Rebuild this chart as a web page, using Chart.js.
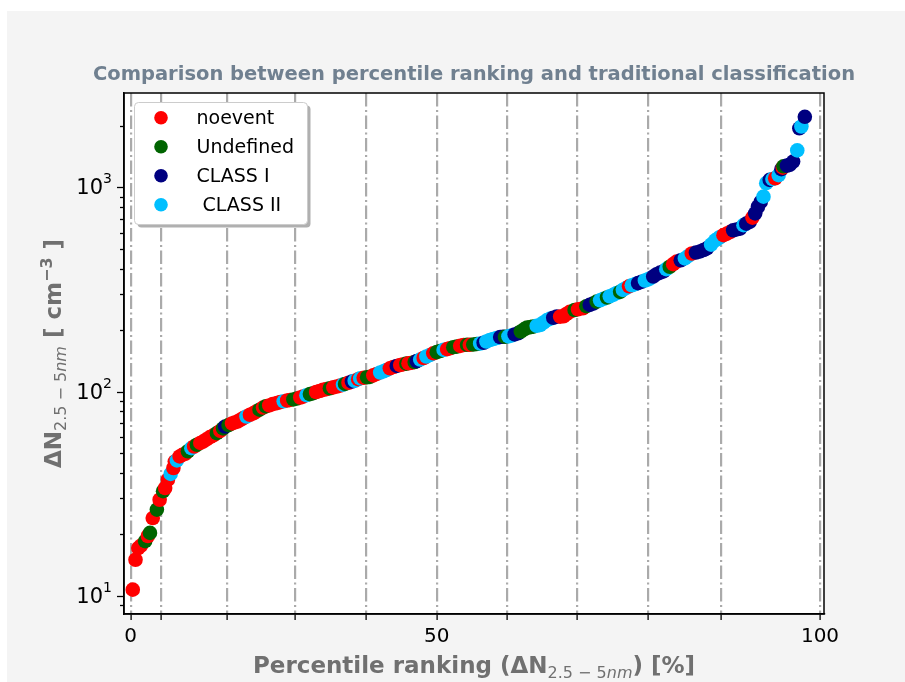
<!DOCTYPE html>
<html>
<head>
<meta charset="utf-8">
<script src="https://cdn.jsdelivr.net/npm/chart.js@4.4.0/dist/chart.umd.min.js"></script>
<style>
  html, body { margin: 0; padding: 0; background: #ffffff; }
  canvas { display: block; }
</style>
</head>
<body>
<canvas id="ranking" width="905" height="682"></canvas>
<script>
// percentile ranking (x) against the 2.5-5 nm concentration (y), one list per class
const noeventX = [0.3, 0.7, 1.1, 1.5, 2.5, 3.2, 4.2, 5.0, 5.4, 6.2, 6.4, 7.1, 7.5, 7.9, 9.2, 10.1, 10.5, 11.0, 11.5, 12.0, 13.0, 14.7, 15.1, 15.5, 16.0, 16.4, 17.3, 17.8, 18.2, 19.2, 20.1, 20.6, 21.2, 21.7, 22.7, 23.1, 24.6, 25.0, 26.9, 27.4, 27.9, 28.4, 29.4, 29.9, 30.4, 31.6, 33.0, 33.8, 35.2, 35.7, 37.6, 38.1, 39.1, 39.6, 40.3, 40.8, 42.5, 43.9, 45.9, 46.3, 47.8, 48.3, 49.2, 62.3, 62.8, 63.2, 63.7, 64.9, 65.6, 72.3, 78.7, 79.2, 81.4, 86.0, 86.5, 87.0, 90.2, 93.5, 94.6];
const noeventY = [10.7, 15.0, 17.1, 17.6, 19.6, 24.0, 29.5, 33.7, 37.0, 42.2, 45.4, 48.1, 49.0, 49.6, 53.8, 56.0, 56.9, 58.3, 59.8, 61.0, 64.2, 69.8, 70.6, 71.3, 73.0, 74.3, 77.0, 78.3, 79.8, 83.5, 85.5, 86.8, 87.8, 88.8, 90.4, 91.0, 93.5, 94.5, 99.5, 100.6, 101.9, 102.8, 104.8, 105.8, 107.0, 110.5, 115.0, 116.8, 120.0, 122.0, 130.0, 132.0, 135.0, 136.2, 137.7, 138.5, 146.0, 154.0, 161.5, 163.0, 167.5, 169.0, 169.5, 233.0, 234.0, 240.0, 246.0, 253.0, 256.0, 328.0, 421.0, 433.0, 475.0, 584.0, 594.0, 606.0, 712.0, 1110.0, 1250.0];

const undefinedX = [2.1, 2.8, 3.8, 4.7, 8.3, 9.6, 12.5, 13.4, 14.2, 18.7, 19.6, 23.6, 24.1, 26.0, 26.5, 28.9, 31.1, 34.3, 34.7, 40.0, 41.2, 44.4, 44.9, 46.8, 47.3, 48.8, 49.7, 50.2, 54.3, 56.6, 57.1, 57.5, 58.0, 58.4, 64.4, 66.1, 67.6, 69.1, 71.0, 78.2, 94.7];
const undefinedY = [18.5, 20.3, 26.4, 32.5, 51.0, 54.9, 62.6, 66.0, 68.5, 81.5, 84.6, 91.5, 92.5, 97.2, 98.2, 103.8, 109.0, 117.5, 118.0, 137.0, 139.5, 156.0, 158.0, 165.0, 166.0, 169.5, 170.0, 171.0, 185.5, 197.0, 202.0, 206.0, 207.0, 208.0, 251.0, 262.0, 276.0, 289.0, 308.0, 409.0, 1270.0];

const class1X = [13.7, 32.1, 38.6, 41.5, 51.2, 53.6, 54.0, 55.7, 56.2, 61.3, 61.8, 66.6, 67.1, 73.6, 74.1, 75.8, 76.3, 76.8, 77.3, 79.8, 82.0, 82.6, 83.1, 83.6, 87.4, 87.9, 88.4, 89.3, 89.8, 90.6, 91.0, 91.4, 92.7, 94.4, 95.2, 95.6, 96.1, 97.0, 97.8];
const class1Y = [67.4, 112.0, 133.5, 141.0, 173.5, 185.0, 185.5, 190.5, 193.0, 230.0, 233.0, 266.0, 270.0, 340.0, 345.0, 366.0, 376.0, 383.0, 388.0, 440.0, 480.0, 486.0, 494.0, 503.0, 617.0, 623.0, 629.0, 665.0, 679.0, 747.0, 805.0, 850.0, 1090.0, 1230.0, 1280.0, 1290.0, 1340.0, 1950.0, 2220.0];

const class2X = [5.8, 6.7, 8.8, 16.8, 22.2, 25.5, 30.8, 32.5, 33.3, 36.2, 36.7, 37.1, 42.0, 42.9, 43.4, 45.4, 50.7, 51.6, 52.1, 52.6, 53.1, 54.8, 55.3, 58.9, 59.4, 59.9, 60.4, 60.9, 68.1, 68.6, 69.5, 70.0, 70.5, 71.4, 71.9, 72.7, 73.2, 74.6, 75.0, 75.3, 77.7, 80.4, 80.9, 84.2, 84.8, 85.2, 85.5, 88.9, 91.8, 92.2, 93.1, 94.0, 96.7, 97.3];
const class2Y = [39.5, 46.0, 52.8, 75.5, 89.6, 96.0, 108.2, 113.0, 116.0, 124.0, 125.8, 127.6, 143.5, 148.5, 151.0, 160.0, 172.0, 176.0, 179.0, 181.0, 183.0, 186.5, 188.5, 210.0, 212.0, 218.0, 224.0, 228.0, 280.0, 285.0, 293.0, 298.0, 304.0, 315.0, 322.0, 332.0, 336.0, 350.0, 354.0, 358.0, 398.0, 449.0, 462.0, 525.0, 551.0, 562.0, 572.0, 654.0, 902.0, 1050.0, 1100.0, 1150.0, 1520.0, 1990.0];

const classNames = ['noevent', 'Undefined', 'CLASS I', ' CLASS II'];
const classColors = ['#ff0000', '#006400', '#000080', '#00bfff'];

// ticks: dash-dot lines sit on every x tick, only three of them carry a label
const xTickValues = [0, 4.4, 14.0, 23.9, 34.1, 44.4, 54.6, 64.8, 75.1, 85.6, 100];
const xTickLabels = ['0', '', '', '', '', '50', '', '', '', '', '100'];
const yTickValues = [9, 10, 20, 30, 40, 50, 60, 70, 80, 90, 100, 200, 300, 400, 500, 600, 700, 800, 900, 1000, 2000];
const yTickLabels = ['', '1', '', '', '', '', '', '', '', '', '2', '', '', '', '', '', '', '', '', '3', ''];

const FONT = '"DejaVu Sans", sans-serif';
const LABEL_GREY = '#707070';
const MARKER_R = 7.3;

// all classes merged and ordered by rank, so later points overlap earlier ones
const series = [[noeventX, noeventY], [undefinedX, undefinedY], [class1X, class1Y], [class2X, class2Y]];
const ranked = [];
series.forEach((s, c) => s[0].forEach((x, i) => ranked.push({ x: x, y: s[1][i], c: c })));
ranked.sort((a, b) => a.x - b.x);

// draws a run of text pieces (normal / sub / superscript) centred on x
function drawRich(ctx, parts, x, y) {
  let total = 0;
  parts.forEach(p => { ctx.font = p.font; total += ctx.measureText(p.t).width; });
  let cx = x - total / 2;
  parts.forEach(p => {
    ctx.font = p.font;
    ctx.fillText(p.t, cx, y + (p.dy || 0));
    cx += ctx.measureText(p.t).width;
  });
}

function roundRect(ctx, x, y, w, h, r) {
  ctx.beginPath();
  ctx.moveTo(x + r, y);
  ctx.lineTo(x + w - r, y);
  ctx.arcTo(x + w, y, x + w, y + r, r);
  ctx.lineTo(x + w, y + h - r);
  ctx.arcTo(x + w, y + h, x + w - r, y + h, r);
  ctx.lineTo(x + r, y + h);
  ctx.arcTo(x, y + h, x, y + h - r, r);
  ctx.lineTo(x, y + r);
  ctx.arcTo(x, y, x + r, y, r);
  ctx.closePath();
}

const decorations = {
  id: 'decorations',
  beforeDraw(chart) {
    const ctx = chart.ctx;
    const a = chart.chartArea;
    ctx.save();
    ctx.fillStyle = '#ffffff';
    ctx.fillRect(0, 0, chart.width, chart.height);
    ctx.fillStyle = '#f4f4f4';
    ctx.fillRect(7, 11, chart.width - 7, chart.height - 11);
    ctx.fillStyle = '#ffffff';
    ctx.fillRect(a.left, a.top, a.right - a.left, a.bottom - a.top);
    ctx.restore();
  },
  afterDraw(chart) {
    const ctx = chart.ctx;
    const a = chart.chartArea;
    const y = chart.scales.y;
    ctx.save();

    // y tick marks: long on the decades, short in between; decades get a 10^n label
    ctx.strokeStyle = '#000000';
    ctx.fillStyle = '#000000';
    ctx.lineWidth = 1.3;
    ctx.textBaseline = 'middle';
    y.ticks.forEach((t, i) => {
      const py = Math.round(y.getPixelForValue(t.value)) + 0.5;
      const exp = yTickLabels[i];
      const len = exp ? 7 : 4;
      ctx.beginPath();
      ctx.moveTo(a.left - len, py);
      ctx.lineTo(a.left, py);
      ctx.stroke();
      if (exp) {
        ctx.textAlign = 'right';
        ctx.font = '14px ' + FONT;
        const supW = ctx.measureText(exp).width;
        ctx.fillText(exp, 112, py - 8);
        ctx.font = '21px ' + FONT;
        ctx.fillText('10', 112 - supW, py + 1);
      }
    });

    // frame
    ctx.lineWidth = 1.5;
    ctx.strokeRect(a.left, a.top, a.right - a.left, a.bottom - a.top);

    // title
    ctx.fillStyle = '#708090';
    ctx.textAlign = 'center';
    ctx.textBaseline = 'alphabetic';
    ctx.font = 'bold 19.5px ' + FONT;
    ctx.fillText('Comparison between percentile ranking and traditional classification', (a.left + a.right) / 2, 80);

    // axis titles
    ctx.textAlign = 'left';
    ctx.fillStyle = LABEL_GREY;
    const big = 'bold 23px ' + FONT;
    const sub = '16px ' + FONT;
    const subIt = 'italic 16px ' + FONT;
    drawRich(ctx, [
      { t: 'Percentile ranking (ΔN', font: big },
      { t: '2.5 − 5', font: sub, dy: 5 },
      { t: 'nm', font: subIt, dy: 5 },
      { t: ') [%]', font: big }
    ], (a.left + a.right) / 2, 673);

    ctx.save();
    ctx.translate(61, (a.top + a.bottom) / 2);
    ctx.rotate(-Math.PI / 2);
    drawRich(ctx, [
      { t: 'ΔN', font: big },
      { t: '2.5 − 5', font: sub, dy: 5 },
      { t: 'nm', font: subIt, dy: 5 },
      { t: ' [ cm', font: big },
      { t: '−3', font: 'bold 16px ' + FONT, dy: -9 },
      { t: ' ]', font: big }
    ], 0, 0);
    ctx.restore();

    // legend box with drop shadow
    const lx = 134.5, ly = 102.5, lw = 173, lh = 122;
    ctx.fillStyle = '#b0b0b0';
    roundRect(ctx, lx + 3, ly + 3, lw, lh, 4);
    ctx.fill();
    ctx.fillStyle = '#ffffff';
    ctx.strokeStyle = '#cccccc';
    ctx.lineWidth = 1;
    roundRect(ctx, lx, ly, lw, lh, 4);
    ctx.fill();
    ctx.stroke();
    ctx.font = '19px ' + FONT;
    ctx.textBaseline = 'middle';
    classNames.forEach((name, i) => {
      const ry = 117.7 + i * 29;
      ctx.fillStyle = classColors[i];
      ctx.beginPath();
      ctx.arc(161, ry, 6.8, 0, Math.PI * 2);
      ctx.fill();
      ctx.fillStyle = '#000000';
      ctx.fillText(name, 196.5, ry + 1);
    });
    ctx.restore();
  }
};

new Chart(document.getElementById('ranking'), {
  type: 'scatter',
  data: {
    datasets: [{
      label: 'classification',
      data: ranked.map(p => ({ x: p.x, y: p.y })),
      backgroundColor: ranked.map(p => classColors[p.c]),
      borderWidth: 0,
      pointRadius: MARKER_R,
      pointHoverRadius: MARKER_R
    }]
  },
  options: {
    responsive: false,
    animation: false,
    events: [],
    layout: { padding: { top: 93, right: 81, bottom: 0, left: 0 } },
    plugins: { legend: { display: false }, title: { display: false }, tooltip: { enabled: false } },
    scales: {
      x: {
        type: 'linear',
        min: -0.97,
        max: 100.58,
        afterFit: s => { s.height = 68; },
        afterBuildTicks: s => { s.ticks = xTickValues.map(v => ({ value: v })); },
        ticks: {
          autoSkip: false,
          maxRotation: 0,
          padding: 5,
          color: '#000000',
          font: { family: FONT, size: 20 },
          callback: (v, i) => xTickLabels[i]
        },
        grid: {
          color: '#aaaaaa',
          lineWidth: 2.2,
          tickColor: '#000000',
          tickWidth: 1.3,
          tickLength: 6,
          tickBorderDash: []
        },
        border: { display: true, color: '#000000', width: 1.5, dash: [13.5, 3.5, 2, 3.5] }
      },
      y: {
        type: 'logarithmic',
        min: 8.13,
        max: 2904,
        afterFit: s => { s.width = 124; },
        afterBuildTicks: s => { s.ticks = yTickValues.map(v => ({ value: v })); },
        ticks: { display: false },
        grid: { display: false },
        border: { display: true, color: '#000000', width: 1.5 }
      }
    }
  },
  plugins: [decorations]
});
</script>
</body>
</html>
